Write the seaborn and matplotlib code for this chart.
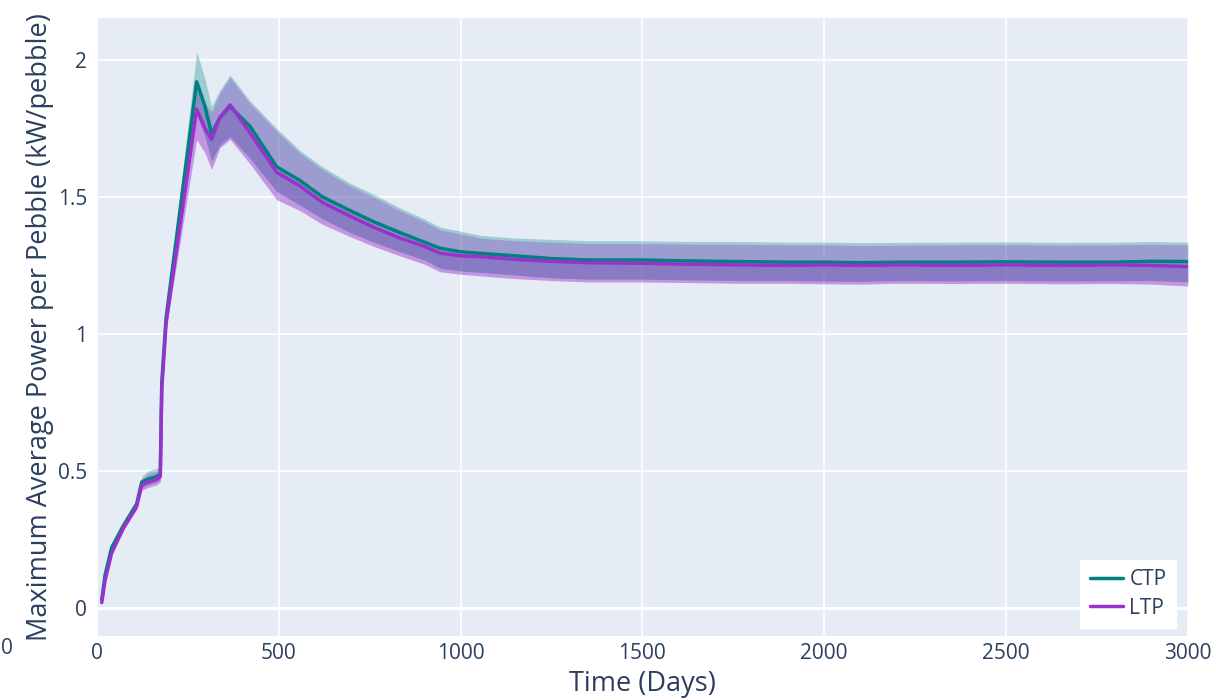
"""Max average power per pebble over time: CTP vs LTP with spread bands."""

import matplotlib

matplotlib.use("Agg")
import matplotlib.pyplot as plt
import pandas as pd
import seaborn as sns

# values
days = [13, 22, 40, 72, 109, 123, 140, 164, 174, 178, 190, 274, 297, 315, 338,
        366, 421, 494, 558, 620, 696, 760, 833, 900, 943, 1000, 1053, 1150,
        1250, 1350, 1493, 1600, 1768, 1900, 2000, 2100, 2208, 2350, 2500, 2650,
        2800, 2900, 3000]

ctp_mean = [0.03, 0.12, 0.22, 0.30, 0.38, 0.46, 0.47, 0.48, 0.49, 0.82, 1.06,
            1.92, 1.83, 1.73, 1.79, 1.83, 1.757, 1.61, 1.56, 1.50, 1.45, 1.41,
            1.37, 1.335, 1.313, 1.30, 1.294, 1.285, 1.275, 1.27, 1.27, 1.267,
            1.264, 1.262, 1.262, 1.260, 1.262, 1.262, 1.263, 1.262, 1.262,
            1.265, 1.264]
ctp_upper = [0.035, 0.125, 0.225, 0.305, 0.39, 0.48, 0.50, 0.51, 0.51, 0.83,
             1.08, 2.03, 1.93, 1.83, 1.89, 1.945, 1.85, 1.75, 1.67, 1.61, 1.55,
             1.51, 1.46, 1.42, 1.39, 1.375, 1.36, 1.35, 1.345, 1.34, 1.34,
             1.338, 1.337, 1.335, 1.335, 1.333, 1.334, 1.335, 1.336, 1.334,
             1.335, 1.337, 1.335]
ctp_lower = [0.025, 0.115, 0.215, 0.295, 0.37, 0.44, 0.45, 0.46, 0.47, 0.81,
             1.04, 1.80, 1.72, 1.63, 1.69, 1.72, 1.64, 1.52, 1.47, 1.42, 1.37,
             1.335, 1.30, 1.27, 1.24, 1.23, 1.225, 1.215, 1.205, 1.20, 1.20,
             1.198, 1.195, 1.195, 1.193, 1.192, 1.195, 1.194, 1.195, 1.193,
             1.194, 1.195, 1.19]

ltp_mean = [0.02, 0.10, 0.20, 0.29, 0.37, 0.45, 0.46, 0.47, 0.48, 0.80, 1.04,
            1.82, 1.75, 1.71, 1.79, 1.836, 1.733, 1.59, 1.54, 1.48, 1.43, 1.39,
            1.35, 1.32, 1.295, 1.285, 1.282, 1.272, 1.265, 1.26, 1.258, 1.255,
            1.252, 1.25, 1.252, 1.25, 1.252, 1.25, 1.252, 1.25, 1.252, 1.25,
            1.246]
ltp_upper = [0.025, 0.105, 0.205, 0.295, 0.38, 0.47, 0.49, 0.50, 0.50, 0.81,
             1.06, 1.89, 1.84, 1.81, 1.88, 1.935, 1.84, 1.74, 1.66, 1.60, 1.54,
             1.50, 1.45, 1.41, 1.38, 1.365, 1.35, 1.34, 1.335, 1.33, 1.33,
             1.328, 1.327, 1.325, 1.325, 1.323, 1.324, 1.325, 1.326, 1.324,
             1.325, 1.327, 1.325]
ltp_lower = [0.015, 0.095, 0.195, 0.285, 0.36, 0.43, 0.44, 0.45, 0.46, 0.79,
             1.02, 1.71, 1.66, 1.60, 1.68, 1.71, 1.62, 1.49, 1.45, 1.40, 1.355,
             1.32, 1.285, 1.255, 1.227, 1.218, 1.212, 1.202, 1.195, 1.19, 1.19,
             1.188, 1.185, 1.185, 1.183, 1.182, 1.185, 1.184, 1.185, 1.183,
             1.184, 1.182, 1.175]

x_ticks = [0, 500, 1000, 1500, 2000, 2500, 3000]
y_ticks = [0, 0.5, 1, 1.5, 2]
y_tick_labels = ["0", "0.5", "1", "1.5", "2"]

TEAL = "#008080"
PURPLE = "#9932CC"
TEXT = "#2a3f5f"

sns.set_theme(style="darkgrid", rc={
    "axes.facecolor": "#E5ECF6",
    "grid.color": "white",
    "grid.linewidth": 1.2,
})
plt.rcParams["font.family"] = ["Open Sans", "DejaVu Sans"]

df = pd.DataFrame({
    "Day": days + days,
    "Power": ctp_mean + ltp_mean,
    "Type": ["CTP"] * len(days) + ["LTP"] * len(days),
})

fig = plt.figure(figsize=(12.16, 7.0), dpi=100)
ax = fig.add_axes([0.0798, 0.0914, 0.897, 0.883])

# CTP band + line first, LTP drawn over it
ax.fill_between(days, ctp_lower, ctp_upper, color=TEAL, alpha=0.3, lw=0)
ax.fill_between(days, ctp_lower, ctp_mean, color=TEAL, alpha=0.22, lw=0)
sns.lineplot(data=df[df["Type"] == "CTP"], x="Day", y="Power", color=TEAL,
             lw=2.5, ax=ax, label="CTP")
ax.fill_between(days, ltp_lower, ltp_upper, color=PURPLE, alpha=0.3, lw=0)
ax.fill_between(days, ltp_lower, ltp_mean, color=PURPLE, alpha=0.22, lw=0)
sns.lineplot(data=df[df["Type"] == "LTP"], x="Day", y="Power", color=PURPLE,
             lw=2.5, ax=ax, label="LTP")

ax.set_xlim(0, 3000)
ax.set_ylim(-0.102, 2.153)
ax.set_xticks(x_ticks)
ax.set_yticks(y_ticks)
ax.set_yticklabels(y_tick_labels)
ax.axhline(0, color="white", lw=2.2, zorder=0.5)
for s in ax.spines.values():
    s.set_visible(False)
ax.tick_params(colors=TEXT, labelsize=15, length=0)
ax.tick_params(axis="y", pad=7)
ax.tick_params(axis="x", pad=5)

ax.set_xlabel("Time (Days)", fontsize=19.5, color=TEXT, labelpad=4)
ax.set_ylabel("Maximum Average Power per Pebble (kW/pebble)", fontsize=19.5,
              color=TEXT, labelpad=3)

leg = ax.legend(loc="lower right", bbox_to_anchor=(0.989, 0.013),
                borderaxespad=0, frameon=True, facecolor="white",
                edgecolor="white", framealpha=1, fancybox=False, fontsize=15,
                handlelength=1.6, handletextpad=0.3, labelspacing=0.35,
                borderpad=0.45)
for t in leg.get_texts():
    t.set_color(TEXT)

# partial tick label that sits at the very left edge of the picture
fig.text(1 / 1216, 1 - 648 / 700, "0", ha="left", va="center", fontsize=15,
         color=TEXT)

fig.savefig("out.png", dpi=100)
plt.close(fig)
